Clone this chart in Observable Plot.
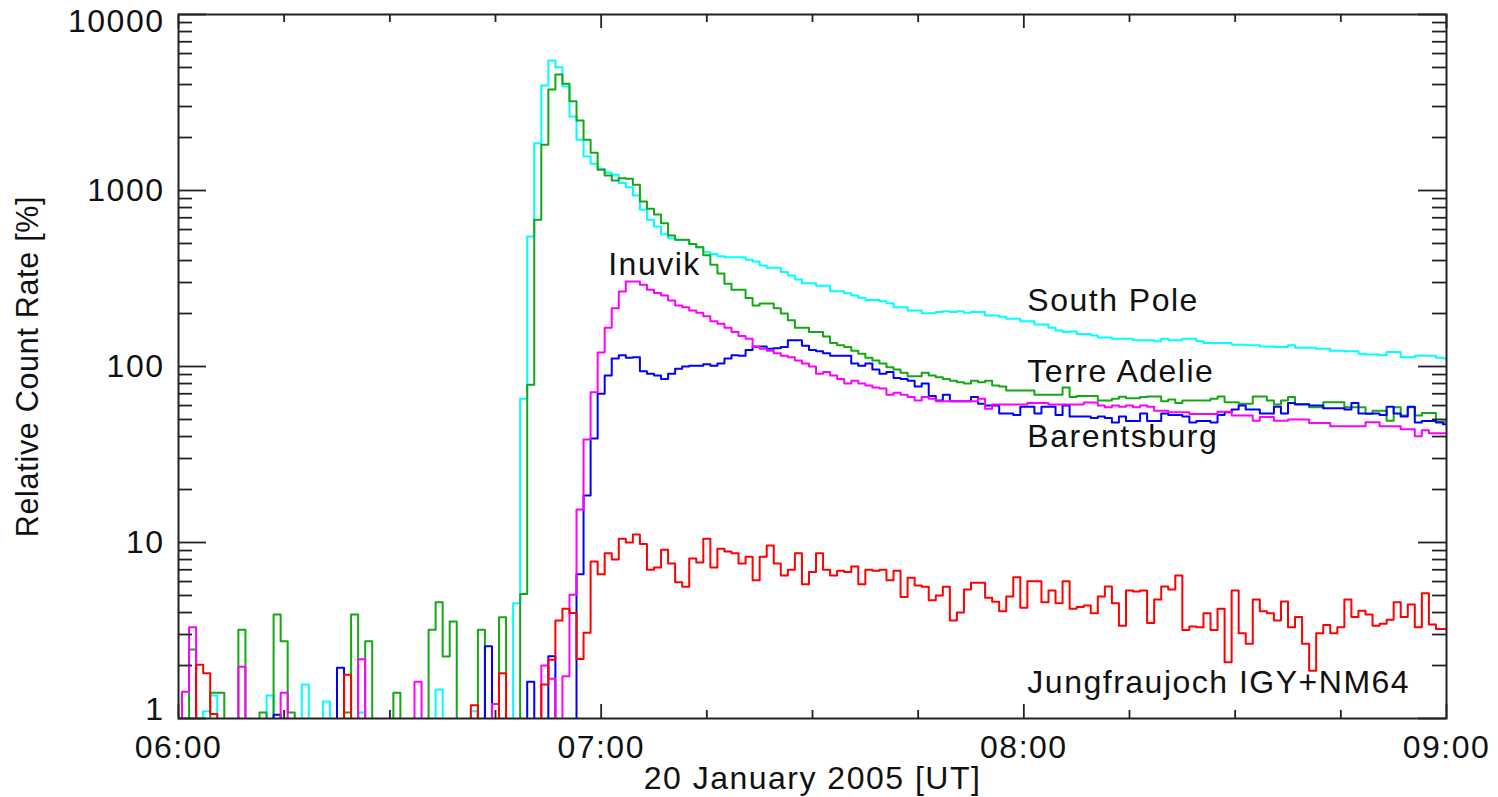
<!DOCTYPE html>
<html><head><meta charset="utf-8">
<script src="https://cdn.jsdelivr.net/npm/d3@7"></script>
<script src="https://cdn.jsdelivr.net/npm/@observablehq/plot@0.6"></script>
<style>html,body{margin:0;padding:0;background:#fff;}</style>
</head><body><div id="chart"></div>
<script>
// B marks a 1-minute value below the bottom of the axis (count rate < 1 %)
const B = 0.5;

// 1-minute relative count rates [%], 06:00 ... 09:00 UT, 20 January 2005
const southPole = [
 B,B,B,B,1.1,1.35,B,B,B,B,
 B,B,B,1.35,B,B,B,B,1.56,B,
 B,1.25,B,B,B,B,1.08,B,B,B,
 B,B,B,B,B,B,B,1.46,B,B,
 B,B,1.1,B,B,B,B,B,4.52,65.5,
 548,1857,3952,5480,5020,3898,2632,1941,1560,1419,
 1330,1260,1230,1102,1045,937,777,681,625,565,
 535,524,524,497,476,446,436,423,418,418,
 418,404,395,375,364,364,344,329,312,297,
 297,288,288,268,268,261,253,246,239,239,
 235,229,217,217,208,208,201,201,204,206,
 204,206,202,204,204,195,195,192,187,187,
 181,181,173,173,166,160,157,158,153,153,
 150,146,146,144,144,144,141,141,141,139,
 144,141,141,144,144,139,136,136,136,136,
 133,133,132,132,130,130,129,129,132,128,
 128,128,126,126,123,123,122,122,118,117,
 117,116,121,121,113,113,115,115,115,112,
 111];

const terreAdelie = [
 B,B,2.47,B,B,1.4,1.4,B,B,3.19,
 B,B,1.08,B,3.9,2.75,1.08,B,B,B,
 B,B,B,B,1.08,3.9,B,2.75,B,B,
 B,1.4,B,B,B,B,3.19,4.58,2.25,3.56,
 B,B,B,3.19,B,B,3.76,B,B,5.1,
 78.7,681,1819,3750,4560,4038,3216,2500,1941,1637,
 1311,1217,1140,1175,1165,1077,866,787,730,652,
 555,525,525,497,476,428,378,338,295,273,
 273,245,222,228,228,214,200,183,166,166,
 157,157,148,136,132,129,123,118,112,108,
 104,99,96,92,88,88,92,89,87,85,
 83,81.5,80,83,81.5,83,78,77,73,73,
 73,73,69,69,69,69,76,67,68,68,
 68,64,64,65.5,67.3,66,66,67,67.5,67.5,
 63.5,65,62,64,64,64,64,65.5,67.5,62.7,
 62.7,61.4,61.4,67.5,67.5,64,60.8,64,67,60.8,
 60.8,58.6,58.6,62.7,62.7,62.7,58.6,58.6,58.6,53.8,
 56,56,49.2,58.6,52.7,58.6,52.7,54.4,54.4,48.6,
 48.6];

const barentsburg = [
 B,B,B,B,B,B,B,B,B,B,
 B,B,B,B,1.05,B,B,B,B,B,
 B,B,B,1.94,B,B,B,B,B,B,
 B,B,B,B,B,B,B,B,B,B,
 B,B,B,B,2.57,B,B,B,B,B,
 1.62,B,B,2.26,B,B,B,6.6,18.5,39,
 70,89,111,116,112,113,94,91,89,85,
 91,97,100,101,101,103,101,104,111,116,
 115,124,130,130,126,127,129,141,141,131,
 124,122,119,115,115,115,104,101,104,96,
 91,93,86,85,83,77,80,68,64,69,
 63.5,63.5,63.5,67,61.5,60,60,54,54,53,
 59,59,54,59,59,53,60,52,52,52,
 51,52,51,48,52,49,49,54,49,49,
 54,53,53,52,48,49,49,48,53,55,
 57,60,57,57,54,54,59,54,62,61,
 61,60,60,58,58,58,57,62,54,54,
 54,53,59,54,52,59,48,49,49,48,
 47];

const inuvik = [
 B,1.42,3.3,B,B,B,B,B,B,1.97,
 B,B,B,B,B,1.4,B,B,B,B,
 B,B,B,B,B,B,2.17,B,B,B,
 B,B,B,B,1.62,B,B,B,B,B,
 B,B,B,B,B,1.21,B,B,B,B,
 B,B,2.0,1.68,B,1.74,5.05,15.4,38.5,71.5,
 120,166,214,267,304,304,291,273,262,253,
 237,222,217,208,202,193,181,175,166,157,
 149,144,129,126,123,119,115,113,108,104,
 100,91,93,89,85,80,83,80,78,76,
 75,69,71,69,67,64,67,65.5,63.5,63.5,
 63.5,63.5,63.5,63.5,65.5,57.5,60.8,60.8,60.8,60.8,
 60.8,62,62,62,60.8,60.8,60.8,60.8,60.8,62.5,
 62.5,60,58.6,60,59,60,58.6,60,59,56.1,
 56.1,55,55,55,53.8,53.8,53.8,53.8,55.4,55.4,
 52.7,52.7,52.7,49.2,51.7,51.7,49.2,49.2,50,50,
 50,47.7,47.7,47.7,45.8,45.8,45.8,45.8,45.8,48.3,
 48.3,45.8,45.8,45.8,44,44,40.1,43.5,41.8,41.8,
 41.8];

const jungfraujoch = [
 B,B,B,2.02,1.81,1.06,B,B,B,B,
 B,B,B,B,B,B,B,B,B,B,
 B,B,B,B,1.77,B,B,B,B,B,
 B,B,B,B,B,B,B,B,B,B,
 B,B,1.19,B,B,B,1.81,B,B,B,
 B,B,1.56,2.16,3.6,4.2,3.97,2.18,3.07,7.8,
 6.6,8.7,8.0,10.5,10.0,11.1,9.8,7.0,7.2,9.1,
 7.6,5.95,5.6,8.1,7.7,10.5,7.2,9.2,8.9,8.7,
 7.6,8.3,6.1,8.3,9.6,7.6,6.5,7.0,8.7,5.8,
 6.8,8.7,7.0,6.5,6.9,6.8,7.3,5.8,7.0,6.9,
 7.0,6.1,6.9,4.9,6.3,5.7,5.6,4.7,5.0,5.6,
 3.6,4.0,5.4,5.9,5.9,4.85,4.6,4.07,4.93,6.35,
 4.26,6.03,6.03,4.58,5.33,4.52,6.03,4.2,4.3,4.39,
 3.96,4.93,5.62,4.52,3.37,5.33,5.27,5.33,3.49,4.74,
 5.62,5.4,6.5,3.18,3.33,3.3,3.96,3.18,4.2,2.09,
 5.33,3.05,2.66,4.74,4.07,3.96,3.6,4.62,3.3,3.77,
 2.66,1.87,3.05,3.4,3.05,3.3,4.74,3.77,4.1,3.9,
 3.37,3.45,3.64,4.58,3.77,4.45,3.3,5.15,3.42,3.23,
 3.23];

// station colours (drawing order)
const stationNames = ["South Pole","Terre Adelie","Barentsburg","Inuvik","Jungfraujoch IGY+NM64"];
const stationColors = ["#00ffff","#14a814","#0000ff","#ff00ff","#ff0000"];
const stationValues = [southPole, terreAdelie, barentsburg, inuvik, jungfraujoch];

// in-plot labels: minutes after 06:00 and value at text baseline
const labelNames = ["Inuvik","South Pole","Terre Adelie","Barentsburg","Jungfraujoch IGY+NM64"];
const labelMinutes = [61, 120.5, 120.5, 120.5, 120.5];
const labelValues = [329, 208, 82, 34.7, 1.39];

// axes
const hourTicks = [0, 60, 120, 180];
const hourLabels = ["06:00","07:00","08:00","09:00"];
const quarterTicks = [15,30,45,75,90,105,135,150,165];
const decades = [1,10,100,1000,10000];
const decadeLabels = ["1","10","100","1000","10000"];
const minorMultipliers = [2,3,4,5,6,7,8,9];
const xTitle = "20 January 2005 [UT]";
const yTitle = "Relative Count Rate [%]";

const start = Date.UTC(2005, 0, 20, 6, 0, 0);
const T = m => new Date(start + m * 60000);

const minorY = decades.slice(0, 4).flatMap(d => minorMultipliers.map(k => d * k));

const width = 1498, height = 797;
const mL = 178, mR = 52, mT = 14, mB = 79;
const W = width - mL - mR, H = height - mT - mB;
const ax = "#222";

const lineMarks = stationValues.map((vals, s) =>
  Plot.line(vals.map((v, i) => ({time: T(i), value: v})), {
    x: "time", y: "value", curve: "step", stroke: stationColors[s], strokeWidth: 2, clip: true
  })
);

const labelRows = labelNames.map((n, i) => ({name: n, time: T(labelMinutes[i]), value: labelValues[i]}));
const decRows = decades.map((d, i) => ({v: d, label: decadeLabels[i]}));

const chart = Plot.plot({
  width, height,
  marginLeft: mL, marginRight: mR, marginTop: mT, marginBottom: mB,
  x: {type: "utc", domain: [T(0), T(180)], axis: null},
  y: {type: "log", domain: [1, 10000], axis: null},
  style: {fontFamily: "'Liberation Sans', Arial, sans-serif", letterSpacing: "1.5px", background: "#fff", color: "#111"},
  marks: [
    ...lineMarks,
    Plot.ruleX(hourTicks.map(T), {insetTop: H - 14, stroke: ax, strokeWidth: 1.8}),
    Plot.ruleX(hourTicks.map(T), {insetBottom: H - 14, stroke: ax, strokeWidth: 1.8}),
    Plot.ruleX(quarterTicks.map(T), {insetTop: H - 8, stroke: ax, strokeWidth: 1.8}),
    Plot.ruleX(quarterTicks.map(T), {insetBottom: H - 8, stroke: ax, strokeWidth: 1.8}),
    Plot.ruleY(decades, {insetRight: W - 28, stroke: ax, strokeWidth: 1.8}),
    Plot.ruleY(decades, {insetLeft: W - 28, stroke: ax, strokeWidth: 1.8}),
    Plot.ruleY(minorY, {insetRight: W - 14, stroke: ax, strokeWidth: 1.8}),
    Plot.ruleY(minorY, {insetLeft: W - 14, stroke: ax, strokeWidth: 1.8}),
    Plot.frame({stroke: ax, strokeWidth: 2}),
    // x tick labels
    Plot.text(hourTicks.map((m, i) => ({t: T(m), label: hourLabels[i]})), {
      x: "t", text: "label", frameAnchor: "bottom", dy: 29, lineAnchor: "middle", fontSize: 32
    }),
    // y tick labels
    Plot.text(decRows.filter(d => d.v > 1 && d.v < 10000), {
      y: "v", text: "label", frameAnchor: "left", textAnchor: "end", dx: -14, lineAnchor: "middle", fontSize: 32
    }),
    Plot.text(decRows.filter(d => d.v === 10000), {
      y: "v", text: "label", frameAnchor: "left", textAnchor: "end", dx: -14, dy: 7, lineAnchor: "middle", fontSize: 32
    }),
    Plot.text(decRows.filter(d => d.v === 1), {
      y: "v", text: "label", frameAnchor: "left", textAnchor: "end", dx: -14, dy: -9, lineAnchor: "middle", fontSize: 32
    }),
    // axis titles
    Plot.text([xTitle], {frameAnchor: "bottom", dy: 60, textAnchor: "middle", lineAnchor: "middle", fontSize: 32}),
    Plot.text([yTitle], {frameAnchor: "left", dx: -150, rotate: -90, textAnchor: "middle", lineAnchor: "middle", fontSize: 30.5}),
    // station labels
    Plot.text(labelRows, {x: "time", y: "value", text: "name", textAnchor: "start", lineAnchor: "bottom", fontSize: 32})
  ]
});

d3.select(chart).selectAll("text").filter(function() { return this.textContent === yTitle; })
  .style("letter-spacing", "0.7px");
document.getElementById("chart").appendChild(chart);
</script>
</body></html>
